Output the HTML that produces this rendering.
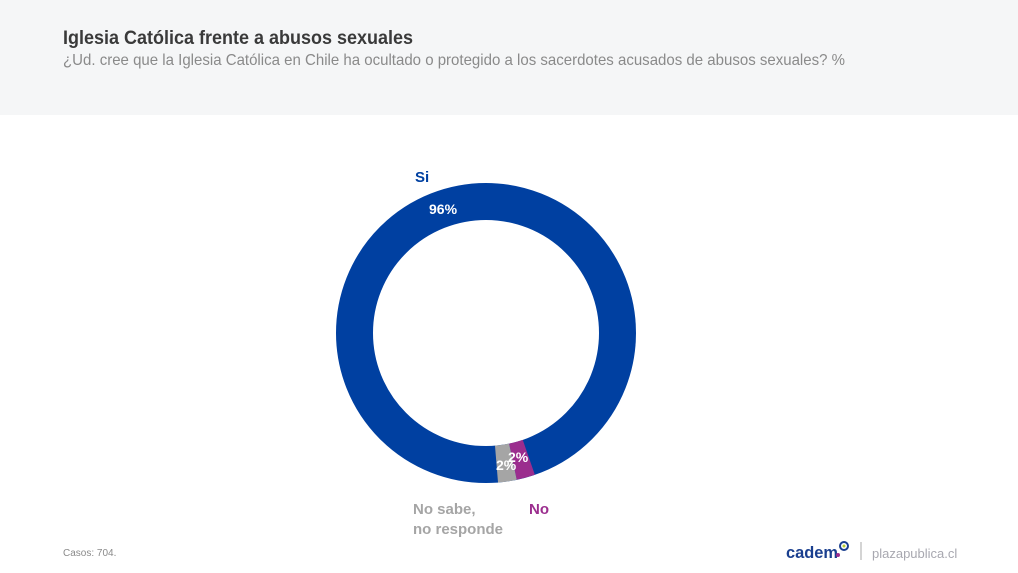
<!DOCTYPE html>
<html><head><meta charset="utf-8"><style>
html,body{margin:0;padding:0;background:#fff;}
svg{display:block;font-family:"Liberation Sans",sans-serif;}
</style></head><body>
<svg width="1018" height="573" viewBox="0 0 1018 573">
<rect x="0" y="0" width="1018" height="115" fill="#f5f6f7"/>
<text x="63" y="44" font-size="19" font-weight="bold" fill="#3a3a3a" textLength="350" lengthAdjust="spacingAndGlyphs">Iglesia Católica frente a abusos sexuales</text>
<text x="63" y="65" font-size="16" fill="#8a8a8a" textLength="782" lengthAdjust="spacingAndGlyphs">¿Ud. cree que la Iglesia Católica en Chile ha ocultado o protegido a los sacerdotes acusados de abusos sexuales? %</text>
<circle cx="486" cy="333" r="131.5" fill="none" stroke="#0040a1" stroke-width="37"/>
<path d="M528.8,457.3 A131.5,131.5 0 0 1 512.9,461.7" fill="none" stroke="#9b2d8e" stroke-width="37"/>
<path d="M512.9,461.7 A131.5,131.5 0 0 1 496.5,464.1" fill="none" stroke="#a5a5a5" stroke-width="37"/>
<text x="429" y="214" font-size="14" font-weight="bold" fill="#fff">96%</text>
<text x="508" y="462" font-size="14" font-weight="bold" fill="#fff">2%</text>
<text x="496" y="470" font-size="14" font-weight="bold" fill="#fff">2%</text>
<text x="415" y="182" font-size="15" font-weight="bold" fill="#0040a1">Si</text>
<text x="529" y="514" font-size="15" font-weight="bold" fill="#9b2d8e">No</text>
<text x="413" y="514" font-size="15" font-weight="bold" fill="#a5a5a5">No sabe,</text>
<text x="413" y="534" font-size="15" font-weight="bold" fill="#a5a5a5">no responde</text>
<text x="63" y="556" font-size="10" fill="#8a8a8a">Casos: 704.</text>
<text x="786" y="558" font-size="17" fill="#1a3f8f" font-weight="bold" textLength="52" lengthAdjust="spacingAndGlyphs">cadem</text>
<circle cx="844" cy="546" r="4" fill="none" stroke="#1a3f8f" stroke-width="2"/>
<circle cx="844" cy="546" r="1.5" fill="#b5cc2e"/>
<circle cx="838" cy="555" r="2" fill="#9b2d8e"/>
<line x1="861" y1="542" x2="861" y2="560" stroke="#aaa" stroke-width="1"/>
<text x="872" y="558" font-size="13" fill="#a8a8b0">plazapublica.cl</text>
</svg>
</body></html>
